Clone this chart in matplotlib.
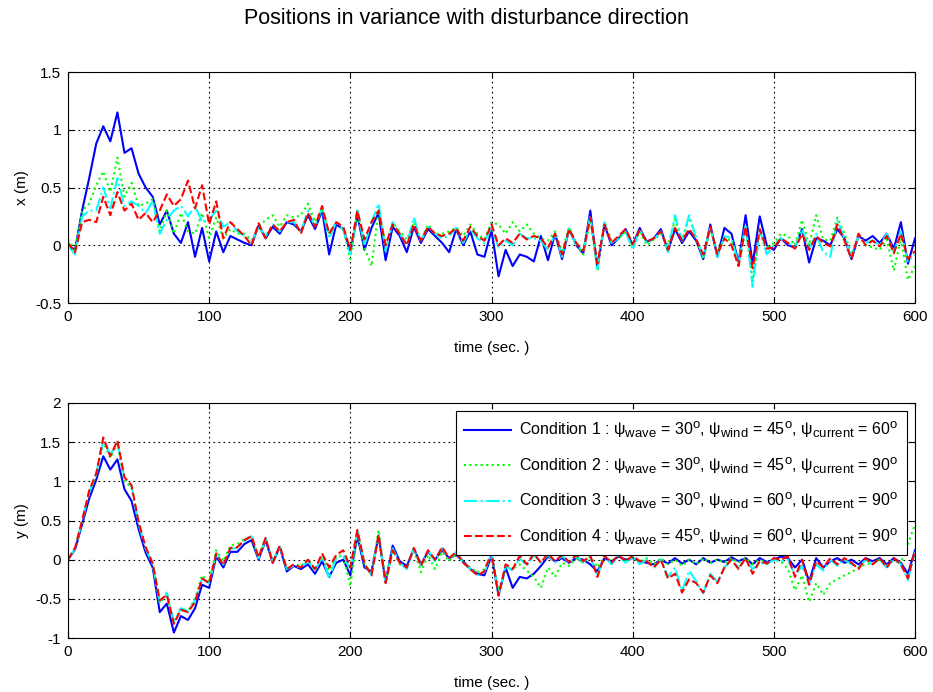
import numpy as np
import matplotlib
matplotlib.use("Agg")
import matplotlib.pyplot as plt

# ---------------- data (5 s sampling) ----------------
time_s = np.arange(0, 601, 5)

x_cond1 = [0.0, -0.04, 0.3, 0.58, 0.88, 1.03, 0.9, 1.15, 0.8, 0.84, 0.62, 0.5, 0.42, 0.18, 0.3, 0.1,
           0.02, 0.2, -0.1, 0.15, -0.14, 0.12, -0.06, 0.08, 0.05, 0.02, 0.0, 0.17, 0.06, 0.16, 0.1,
           0.2, 0.18, 0.12, 0.26, 0.14, 0.3, -0.08, 0.18, 0.14, -0.06, 0.26, -0.04, 0.15, 0.28, -0.13,
           0.16, 0.08, -0.06, 0.16, 0.02, 0.14, 0.08, 0.02, -0.06, 0.14, 0.0, 0.12, -0.08, -0.1, 0.13,
           -0.27, -0.04, -0.18, -0.08, -0.1, -0.14, 0.08, -0.13, 0.1, -0.12, 0.14, 0.0, -0.07, 0.3,
           -0.2, 0.18, 0.0, 0.06, 0.14, 0.0, 0.15, 0.03, 0.06, 0.14, -0.05, 0.14, 0.02, 0.12, 0.04,
           -0.12, 0.18, -0.1, 0.15, 0.1, -0.15, 0.26, -0.16, 0.25, 0.0, -0.04, 0.06, 0.0, -0.02, 0.14,
           -0.15, 0.06, 0.04, 0.0, 0.14, 0.06, -0.12, 0.08, 0.04, 0.08, 0.02, 0.1, -0.03, 0.2, -0.16, 0.06]
x_cond2 = [0.05, -0.04, 0.3, 0.36, 0.52, 0.64, 0.46, 0.76, 0.42, 0.54, 0.34, 0.36, 0.4, 0.12, 0.3, 0.1,
           0.28, 0.12, 0.1, 0.28, 0.06, 0.24, 0.06, 0.14, 0.1, 0.1, 0.04, 0.16, 0.22, 0.26, 0.16,
           0.26, 0.24, 0.26, 0.36, 0.2, 0.32, 0.1, 0.2, 0.14, -0.12, 0.3, -0.02, -0.18, 0.3, 0.0,
           0.2, 0.12, 0.05, 0.2, 0.04, 0.18, 0.1, 0.1, 0.12, 0.15, 0.08, 0.18, 0.1, 0.05, 0.2,
           0.18, 0.1, 0.2, 0.12, 0.18, 0.1, 0.06, 0.04, 0.12, -0.05, 0.16, 0.02, -0.08, 0.22,
           -0.22, 0.2, 0.04, 0.06, 0.12, -0.02, 0.12, 0.0, 0.05, 0.1, 0.0, 0.22, 0.04, 0.24, 0.06,
           -0.12, 0.14, -0.06, 0.06, 0.04, -0.18, 0.14, -0.3, 0.1, -0.02, 0.02, 0.1, 0.08, 0.0, 0.22,
           0.0, 0.26, 0.05, 0.04, 0.24, 0.1, -0.08, 0.08, 0.0, -0.02, -0.04, 0.05, -0.22, 0.06, -0.3, -0.18]
x_cond3 = [0.0, -0.08, 0.25, 0.3, 0.3, 0.5, 0.32, 0.58, 0.34, 0.38, 0.34, 0.28, 0.38, 0.1, 0.22, 0.3,
           0.34, 0.25, 0.34, 0.2, 0.22, 0.3, 0.16, 0.2, 0.12, 0.08, 0.02, 0.16, 0.08, 0.18, 0.12,
           0.2, 0.2, 0.12, 0.3, 0.16, 0.32, 0.06, 0.2, 0.14, -0.08, 0.3, 0.0, 0.2, 0.36, -0.05,
           0.2, 0.1, 0.0, 0.24, 0.04, 0.16, 0.1, 0.06, 0.08, 0.15, 0.02, 0.14, 0.06, 0.02, 0.16,
           -0.02, 0.04, 0.0, 0.1, 0.06, 0.06, 0.04, -0.04, 0.1, -0.1, 0.14, 0.0, -0.05, 0.26,
           -0.2, 0.2, 0.02, 0.06, 0.12, -0.04, 0.14, 0.02, 0.05, 0.12, -0.06, 0.26, 0.04, 0.26, 0.06,
           -0.1, 0.16, -0.1, 0.08, 0.06, -0.16, 0.18, -0.36, 0.14, -0.08, 0.0, 0.06, 0.02, -0.02, 0.14,
           -0.04, 0.1, -0.06, -0.1, 0.22, 0.06, -0.1, 0.08, 0.02, 0.04, 0.0, 0.1, -0.06, 0.12, -0.14, -0.08]
x_cond4 = [0.02, -0.06, 0.2, 0.22, 0.2, 0.42, 0.26, 0.46, 0.3, 0.36, 0.22, 0.28, 0.2, 0.3, 0.44, 0.34,
           0.4, 0.56, 0.32, 0.52, 0.18, 0.38, 0.06, 0.2, 0.14, 0.08, 0.0, 0.19, 0.06, 0.18, 0.12,
           0.2, 0.22, 0.1, 0.28, 0.16, 0.34, 0.1, 0.2, 0.16, -0.04, 0.3, 0.05, 0.2, 0.3, 0.0,
           0.18, 0.1, 0.0, 0.18, 0.04, 0.16, 0.1, 0.08, 0.1, 0.15, 0.04, 0.16, 0.08, 0.04, 0.18,
           0.0, 0.06, 0.02, 0.1, 0.05, 0.08, 0.06, -0.02, 0.1, -0.08, 0.14, 0.02, -0.05, 0.24,
           -0.16, 0.18, 0.02, 0.08, 0.14, 0.01, 0.13, 0.03, 0.06, 0.12, -0.04, 0.15, 0.04, 0.14, 0.05,
           -0.08, 0.16, -0.08, 0.06, 0.0, -0.18, 0.16, -0.2, 0.14, -0.03, -0.02, 0.06, 0.02, -0.03, 0.1,
           -0.04, 0.08, 0.02, -0.01, 0.18, 0.04, -0.12, 0.1, 0.0, 0.04, -0.01, 0.08, -0.07, 0.1, -0.12, -0.05]

y_cond1 = [0.0, 0.13, 0.45, 0.78, 1.02, 1.32, 1.15, 1.28, 0.9, 0.75, 0.39, 0.09, -0.1, -0.67, -0.56, -0.93,
           -0.72, -0.77, -0.62, -0.32, -0.36, 0.04, -0.1, 0.1, 0.1, 0.2, 0.25, 0.0, 0.25, -0.04, 0.16,
           -0.15, -0.08, -0.12, -0.06, -0.18, -0.02, -0.22, -0.04, 0.0, -0.2, 0.3, -0.1, -0.15, 0.3, -0.28,
           0.18, -0.02, -0.08, 0.14, -0.06, 0.1, 0.0, 0.12, 0.02, 0.06, -0.02, -0.12, -0.18, -0.2, 0.05,
           -0.45, -0.1, -0.36, -0.22, -0.24, -0.18, -0.08, 0.04, -0.02, 0.02, -0.04, 0.02, 0.0, -0.06,
           -0.15, 0.02, -0.02, 0.04, 0.0, 0.02, -0.02, -0.04, -0.06, 0.0, -0.05, 0.02, -0.05, 0.0, -0.06,
           0.02, -0.04, 0.0, -0.03, 0.03, -0.02, 0.02, -0.06, 0.02, -0.03, 0.0, 0.04, 0.02, -0.1, 0.0,
           -0.28, 0.02, -0.1, -0.02, 0.02, -0.04, 0.0, -0.06, 0.02, -0.02, 0.02, -0.06, 0.02, -0.04, -0.18, 0.12]
y_cond2 = [0.0, 0.15, 0.48, 0.85, 1.08, 1.5, 1.3, 1.48, 1.0, 0.92, 0.46, 0.15, -0.05, -0.55, -0.45, -0.8,
           -0.62, -0.65, -0.5, -0.2, -0.28, 0.12, -0.02, 0.18, 0.2, 0.26, 0.3, 0.02, 0.26, -0.02, 0.16,
           -0.12, -0.06, -0.08, 0.0, -0.14, 0.04, -0.14, 0.04, 0.06, -0.34, 0.35, -0.05, -0.18, 0.38, -0.28,
           0.14, -0.06, -0.1, 0.12, -0.16, 0.06, -0.12, 0.1, -0.02, 0.08, -0.04, -0.1, -0.16, -0.12, 0.06,
           -0.4, -0.1, -0.12, -0.06, -0.14, -0.22, -0.36, -0.1, -0.22, -0.04, -0.08, 0.02, -0.04, 0.04,
           -0.1, 0.04, -0.02, 0.05, -0.02, 0.03, -0.02, 0.02, -0.06, 0.02, -0.06, 0.0, -0.08, 0.0, -0.06,
           0.02, -0.04, 0.0, -0.04, 0.02, -0.04, 0.02, -0.06, 0.0, -0.04, 0.0, -0.02, -0.12, -0.39, -0.2,
           -0.54, -0.3, -0.45, -0.3, -0.25, -0.2, -0.16, -0.1, -0.06, -0.04, 0.0, -0.08, 0.02, -0.04, 0.2, 0.45]
y_cond3 = [0.0, 0.14, 0.5, 0.86, 1.1, 1.52, 1.34, 1.5, 1.04, 0.94, 0.46, 0.14, -0.06, -0.54, -0.42, -0.8,
           -0.62, -0.66, -0.52, -0.24, -0.3, 0.07, -0.06, 0.14, 0.15, 0.24, 0.3, 0.02, 0.27, -0.02, 0.16,
           -0.12, -0.08, -0.1, -0.02, -0.14, 0.04, -0.24, 0.02, 0.06, -0.12, 0.36, -0.06, -0.2, 0.32, -0.3,
           0.14, -0.04, -0.12, 0.14, -0.08, 0.12, -0.02, 0.15, 0.0, 0.1, -0.04, -0.12, -0.2, -0.16, 0.08,
           -0.44, -0.08, -0.14, 0.02, -0.08, 0.06, -0.04, 0.06, -0.04, 0.05, -0.04, 0.05, -0.04, 0.04,
           -0.2, 0.04, -0.06, 0.05, -0.04, 0.04, -0.06, 0.0, -0.1, 0.0, -0.22, -0.1, -0.4, -0.14, -0.28,
           -0.43, -0.18, -0.28, -0.1, 0.0, -0.1, 0.0, -0.12, -0.04, -0.06, 0.0, -0.02, 0.0, -0.2, -0.08,
           -0.3, -0.06, -0.14, 0.0, -0.08, 0.0, -0.06, -0.1, 0.0, -0.06, 0.0, -0.1, 0.0, -0.06, -0.26, 0.1]
y_cond4 = [0.0, 0.15, 0.5, 0.88, 1.1, 1.56, 1.32, 1.52, 1.05, 0.95, 0.48, 0.16, -0.05, -0.52, -0.45, -0.82,
           -0.64, -0.67, -0.54, -0.24, -0.3, 0.08, -0.07, 0.15, 0.16, 0.25, 0.3, 0.03, 0.28, -0.04, 0.18,
           -0.12, -0.06, -0.1, 0.0, -0.12, 0.08, -0.1, 0.06, 0.12, -0.1, 0.38, -0.05, -0.2, 0.32, -0.3,
           0.12, -0.04, -0.1, 0.15, -0.08, 0.12, 0.0, 0.16, 0.02, 0.1, -0.04, -0.12, -0.2, -0.15, 0.1,
           -0.46, -0.06, -0.12, 0.05, -0.06, 0.08, -0.04, 0.08, -0.02, 0.06, -0.03, 0.06, -0.02, 0.05,
           -0.22, 0.05, -0.04, 0.06, -0.02, 0.05, -0.02, -0.02, -0.1, 0.0, -0.24, -0.18, -0.42, -0.25, -0.3,
           -0.42, -0.2, -0.3, -0.1, 0.0, -0.12, 0.02, -0.18, -0.02, -0.05, 0.02, 0.0, 0.04, -0.22, 0.0,
           -0.32, -0.02, -0.1, 0.02, -0.06, 0.02, -0.04, -0.12, 0.02, -0.06, 0.02, -0.1, 0.02, -0.06, -0.24, 0.12]

legend_labels = [
    r"Condition 1 : ψ$_{\rm wave}$ = 30$^{\rm o}$, ψ$_{\rm wind}$ = 45$^{\rm o}$, ψ$_{\rm current}$ = 60$^{\rm o}$",
    r"Condition 2 : ψ$_{\rm wave}$ = 30$^{\rm o}$, ψ$_{\rm wind}$ = 45$^{\rm o}$, ψ$_{\rm current}$ = 90$^{\rm o}$",
    r"Condition 3 : ψ$_{\rm wave}$ = 30$^{\rm o}$, ψ$_{\rm wind}$ = 60$^{\rm o}$, ψ$_{\rm current}$ = 90$^{\rm o}$",
    r"Condition 4 : ψ$_{\rm wave}$ = 45$^{\rm o}$, ψ$_{\rm wind}$ = 60$^{\rm o}$, ψ$_{\rm current}$ = 90$^{\rm o}$",
]
title_text = "Positions in variance with disturbance direction"
x_ticks = [0, 100, 200, 300, 400, 500, 600]
top_yticks = [-0.5, 0, 0.5, 1, 1.5]
bottom_yticks = [-1, -0.5, 0, 0.5, 1, 1.5, 2]

# ---------------- styling ----------------
styles = [dict(color=(0, 0, 1), linestyle="-"),
          dict(color=(0, 1, 0), linestyle=":"),
          dict(color=(0, 1, 1), linestyle="-."),
          dict(color=(1, 0, 0), linestyle="--")]
plt.rcParams["font.family"] = ["Liberation Sans", "DejaVu Sans"]
plt.rcParams["mathtext.fontset"] = "custom"
plt.rcParams["mathtext.rm"] = "Liberation Sans"
plt.rcParams["mathtext.it"] = "Liberation Sans:italic"
try:  # slightly larger sub/superscripts, closer to the reference legend
    import matplotlib._mathtext as _mt
    _mt.SHRINK_FACTOR = 0.82
except Exception:
    pass

fig = plt.figure(figsize=(9.33, 6.92), dpi=100)
fig.text(0.5, 1 - 18 / 692, title_text, ha="center", va="center", fontsize=15.5)

ax1 = fig.add_axes([68 / 933, 1 - 303 / 692, 847 / 933, 231 / 692])
ax2 = fig.add_axes([68 / 933, 1 - 638 / 692, 847 / 933, 235 / 692])

def fmt(v):
    return "%g" % v

for ax, series, yl, yticks, ylim in [
    (ax1, [x_cond1, x_cond2, x_cond3, x_cond4], "x (m)", top_yticks, (-0.5, 1.5)),
    (ax2, [y_cond1, y_cond2, y_cond3, y_cond4], "y (m)", bottom_yticks, (-1, 2)),
]:
    for s, st, lab in zip(series, styles, legend_labels):
        ax.plot(time_s, s, linewidth=1.5, label=lab, **st)
    ax.set_xlim(0, 600)
    ax.set_ylim(*ylim)
    ax.set_xticks(x_ticks)
    ax.set_yticks(yticks)
    ax.set_yticklabels([fmt(v) for v in yticks])
    ax.grid(True, color="black", linestyle=(0, (1.5, 3)), linewidth=0.8)
    ax.tick_params(direction="in", top=True, right=True, labelsize=11, length=4, pad=5)
    ax.set_xlabel("time (sec. )", fontsize=11, labelpad=12)
    ax.set_ylabel(yl, fontsize=11, labelpad=4)
    for sp in ax.spines.values():
        sp.set_color("black")
        sp.set_linewidth(0.8)

leg = ax2.legend(loc="upper right", fontsize=11.5, handlelength=2.9, framealpha=1,
                 fancybox=False, edgecolor="black", borderaxespad=0.5,
                 labelspacing=0.92, borderpad=0.55, handletextpad=0.5)
leg.get_frame().set_linewidth(0.8)

fig.savefig("out.png", dpi=100)
